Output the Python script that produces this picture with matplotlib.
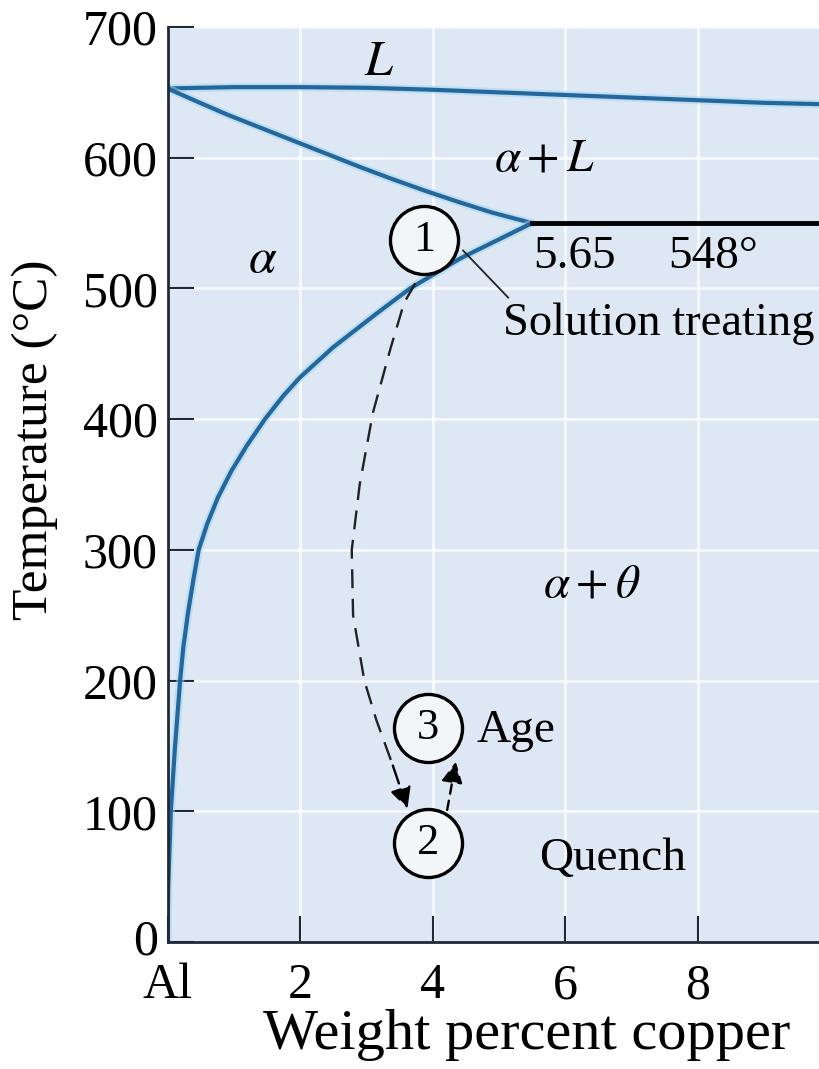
import matplotlib.pyplot as plt
import matplotlib.transforms as mtransforms
from matplotlib.patches import FancyArrowPatch

plt.rcParams['font.family'] = ['Liberation Serif', 'DejaVu Serif']
plt.rcParams['mathtext.fontset'] = 'stix'

# phase boundaries (wt% Cu, deg C)
liq_x = [0, 1, 2, 3, 4, 5, 6, 7, 8, 9, 9.83]
liq_T = [653, 654, 654, 653.5, 652, 650, 648, 646, 644, 642, 641]
sol_x = [0, 0.4, 0.9, 1.4, 1.9, 2.4, 2.9, 3.4, 3.9, 4.4, 4.9, 5.2, 5.5]
sol_T = [653, 644, 633, 623, 613, 603, 593, 583.5, 574.5, 566, 558, 554, 550]
solvus_x = [0, 0.01, 0.05, 0.11, 0.19, 0.24, 0.31, 0.39, 0.47, 0.6, 0.76, 0.96,
            1.2, 1.47, 1.75, 2.0, 2.5, 3.16, 3.66, 4.42, 5.5]
solvus_T = [0, 40, 100, 147, 200, 226, 252, 277, 300, 320, 340, 360,
            380, 400, 418, 432, 455, 481, 500, 523, 550]
eut_x = [5.5, 9.83]
eut_T = [550, 550]

# heat treatment path
quench_x = [3.74, 3.57, 3.37, 3.1, 2.9, 2.78, 2.8, 2.97, 3.15, 3.4, 3.62]
quench_T = [504, 489, 455, 405, 350, 300, 250, 200, 170, 135, 102]
age_x = [4.22, 4.35]
age_T = [101, 138]
steps = ['1', '2', '3']
step_x = [3.87, 3.93, 3.93]
step_T = [537, 76, 164]

xticks = [0, 2, 4, 6, 8]
xticklabels = ['Al', '2', '4', '6', '8']
yticks = [0, 100, 200, 300, 400, 500, 600, 700]

blue = '#24679c'
halo = '#9fd4f0'
bg = '#dde8f4'

fig = plt.figure(figsize=(8.19, 10.69), dpi=100)
ax = fig.add_axes([167.5 / 819, 127 / 1069, 651.5 / 819, 915 / 1069])
ax.set_facecolor(bg)
ax.set_xlim(0, 9.83)
ax.set_ylim(0, 700)

for s in ['top', 'right']:
    ax.spines[s].set_visible(False)
for s in ['left', 'bottom']:
    ax.spines[s].set_color('#1e2a36')
    ax.spines[s].set_linewidth(2)

ax.set_xticks(xticks)
ax.set_xticklabels(xticklabels)
ax.set_yticks(yticks)
ax.tick_params(direction='in', length=19, width=1.5, color='#1e2a36',
               labelsize=36, pad=7)
ax.tick_params(axis='x', pad=15)
ax.grid(True, color='white', lw=2, alpha=0.75)
ax.set_axisbelow(True)

# nudge the "0" label up a little so it clears "Al"
lab0 = ax.get_yticklabels()[0]
lab0.set_transform(lab0.get_transform() +
                   mtransforms.ScaledTranslation(0, 4 / 72, fig.dpi_scale_trans))

for xs, ts in [(liq_x, liq_T), (sol_x, sol_T), (solvus_x, solvus_T)]:
    ax.plot(xs, ts, color=halo, lw=6, alpha=0.5, solid_capstyle='round')
    ax.plot(xs, ts, color=blue, lw=3, solid_capstyle='round', solid_joinstyle='round')
ax.plot(eut_x, eut_T, color='black', lw=3.5)

# quench path with arrow
ax.plot(quench_x[:-1], quench_T[:-1], color='#222222', lw=1.7, dashes=(8, 4.5))
ax.add_patch(FancyArrowPatch((quench_x[-2], quench_T[-2]), (quench_x[-1], quench_T[-1]),
                             arrowstyle='-|>', mutation_scale=32, color='black',
                             lw=1.7, linestyle=(0, (8, 4.5)), shrinkA=0, shrinkB=0))
ax.add_patch(FancyArrowPatch((age_x[0], age_T[0]), (age_x[1], age_T[1]),
                             arrowstyle='-|>', mutation_scale=32, color='black',
                             lw=1.7, linestyle=(0, (4, 3)), shrinkA=0, shrinkB=0))

# leader line for solution treating
ax.plot([4.46, 5.14], [529, 493], color='#222222', lw=1.3)

ax.plot(step_x, step_T, 'o', ms=49, mfc='#f3f6f9', mec='black', mew=2.4, zorder=5)
for s, x, t in zip(steps, step_x, step_T):
    ax.text(x, t, s, fontsize=32, ha='center', va='center', zorder=6)

fs = 34
ax.text(3.2, 673, r'$L$', fontsize=36, ha='center', va='center')
ax.text(5.69, 599, r'$\alpha + L$', fontsize=fs, ha='center', va='center')
ax.text(1.44, 522, r'$\alpha$', fontsize=36, ha='center', va='center')
ax.text(5.52, 516, '5.65', fontsize=fs, ha='left', va='baseline')
ax.text(7.55, 516, '548°', fontsize=fs, ha='left', va='baseline')
ax.text(5.06, 464, 'Solution treating', fontsize=33.5, ha='left', va='baseline')
ax.text(6.4, 273, r'$\alpha + \theta$', fontsize=fs, ha='center', va='center')
ax.text(4.66, 153, 'Age', fontsize=fs, ha='left', va='baseline')
ax.text(5.61, 55, 'Quench', fontsize=fs, ha='left', va='baseline')

fig.text(527 / 819, 1 - 1035 / 1069, 'Weight percent copper', fontsize=42,
         ha='center', va='center')
fig.text(35 / 819, 1 - 440 / 1069, 'Temperature (°C)', fontsize=37,
         ha='center', va='center', rotation=90)

fig.savefig('out.png', dpi=100, facecolor='white')
